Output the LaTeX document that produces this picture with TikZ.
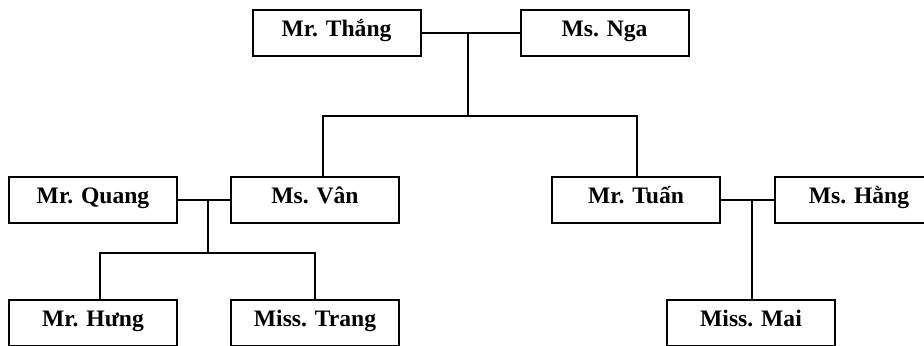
\documentclass[tikz,border=0pt]{standalone}
\usepackage{fontspec}
\setmainfont{Liberation Serif}
\usepackage{tikz}
\usetikzlibrary{calc, positioning}
\tikzset{
person/.style={
  draw, rectangle,
  line width=1pt,
  minimum width=84pt,
  minimum height=23pt,
  inner sep=0pt,
  text height=7.4pt,
  text depth=3.4pt,
  font=\fontsize{11.8}{13}\selectfont\bfseries
},
link/.style={line width=1pt}
}
\begin{document}
\begin{tikzpicture}
                \useasboundingbox (0,0) rectangle (462pt,-173pt);
                \node[person] (thang) at (168.25pt,-16.5pt) {Mr. Thắng};
                \node[person, right=49pt of thang] (nga) {Ms. Nga};
                \node[person] (quang) at (46.5pt,-100pt) {Mr. Quang};
                \node[person, right=26pt of quang] (van) {Ms. Vân};
                \node[person, right=75.5pt of van] (tuan) {Mr. Tuấn};
                \node[person, right=26.5pt of tuan] (hang) {Ms. Hằng};
                \node[person, below=37.5pt of quang] (hung) {Mr. Hưng};
                \node[person, below=37.5pt of van] (trang) {Miss. Trang};
                \node[person, below=37.5pt of tuan, xshift=57.5pt] (mai) {Miss. Mai};

                \coordinate (tn) at ($(thang.east)!0.47!(nga.west)$);
                \coordinate (qv) at ($(quang.east)!0.58!(van.west)$);
                \coordinate (th) at ($(tuan.east)!0.585!(hang.west)$);

                \draw[link] (thang.east) -- (nga.west);
                \draw[link] (tn) -- ++(0,-41.5pt) coordinate (tbar);
                \draw[link] ([xshift=4pt]van.north) |- (tbar) -| ([xshift=0.5pt]tuan.north);

                \draw[link] (quang.east) -- (van.west);
                \draw[link] (qv) -- ++(0,-26.5pt) coordinate (qbar);
                \draw[link] ([xshift=3.5pt]hung.north) |- (qbar) -| (trang.north);

                \draw[link] (tuan.east) -- (hang.west);
                \draw[link] (th) -- (th |- mai.north);
            \end{tikzpicture}
\end{document}
